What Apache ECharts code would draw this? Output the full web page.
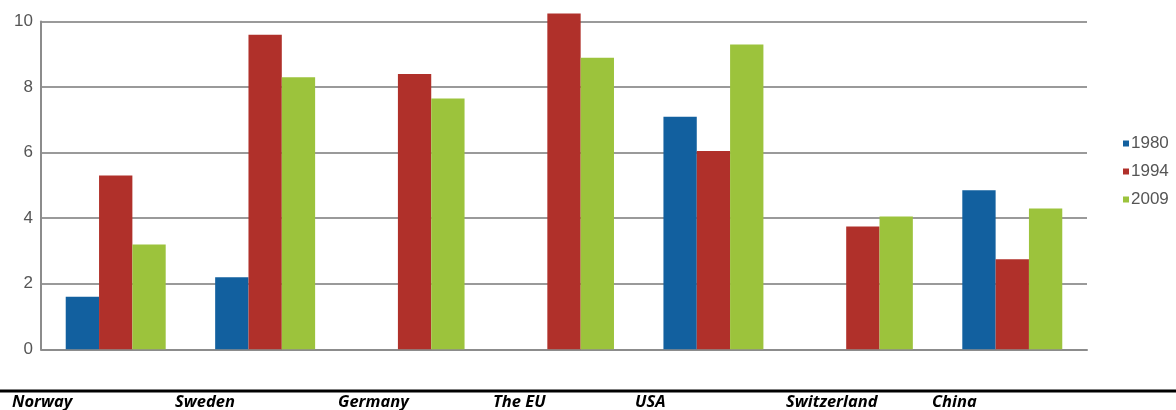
<!DOCTYPE html>
<html>
<head>
<meta charset="utf-8">
<script src="https://cdn.jsdelivr.net/npm/echarts@6/dist/echarts.min.js"></script>
<style>
  html, body { margin: 0; padding: 0; background: #fff; }
  #chart { width: 1176px; height: 410px; }
</style>
</head>
<body>
<div id="chart"></div>
<script>
// Countries and yearly values
const categories = ['Norway', 'Sweden', 'Germany', 'The EU', 'USA', 'Switzerland', 'China'];
const years = ['1980', '1994', '2009'];
const values1980 = [1.6, 2.2, null, null, 7.1, null, 4.85];
const values1994 = [5.3, 9.6, 8.4, 10.25, 6.05, 3.75, 2.75];
const values2009 = [3.2, 8.3, 7.65, 8.9, 9.3, 4.05, 4.3];
const yTicks = [0, 2, 4, 6, 8, 10];

// Layout of the country caption row under the rule
const captionX = [12, 175, 338, 493, 635, 786, 932];
const colors = ['#12609f', '#b0302a', '#9cc33c'];

const chart = echarts.init(document.getElementById('chart'));

const seriesValues = [values1980, values1994, values2009];

chart.setOption({
  animation: false,
  color: colors,
  grid: { left: 41, right: 89, top: 21.6, bottom: 60.7 },
  legend: {
    orient: 'vertical',
    left: 1118,
    top: 130,
    itemWidth: 6,
    itemHeight: 6,
    itemGap: 11,
    icon: 'rect',
    textStyle: { fontFamily: 'Liberation Sans', fontSize: 17, color: '#555', padding: [0, 0, 0, -3] },
    data: years
  },
  xAxis: {
    type: 'category',
    data: categories,
    axisLine: { show: true, lineStyle: { color: '#8c8c8c', width: 2 } },
    axisTick: { show: false },
    axisLabel: { show: false }
  },
  yAxis: {
    type: 'value',
    min: yTicks[0],
    max: yTicks[yTicks.length - 1],
    interval: 2,
    axisLine: { show: true, lineStyle: { color: '#8c8c8c', width: 2 } },
    axisTick: { show: false },
    axisLabel: { fontFamily: 'Liberation Sans', fontSize: 17, color: '#555', margin: 8 },
    splitLine: { lineStyle: { color: '#9a9a9a', width: 2 } }
  },
  series: years.map((y, i) => ({
    name: y,
    type: 'bar',
    data: seriesValues[i],
    barWidth: '22.3%',
    barGap: '0%',
    clip: false,
    itemStyle: { color: colors[i] }
  })),
  graphic: [
    {
      type: 'rect',
      left: 0,
      top: 389.5,
      shape: { width: 1176, height: 3 },
      style: { fill: '#000' },
      silent: true
    }
  ].concat(categories.map((c, i) => ({
    type: 'text',
    x: captionX[i],
    y: 411,
    style: {
      text: c,
      fontFamily: 'Open Sans',
      fontSize: 16.5,
      fontWeight: 'bold',
      fontStyle: 'italic',
      fill: '#000',
      textVerticalAlign: 'bottom',
      verticalAlign: 'bottom'
    },
    silent: true
  })))
});
</script>
</body>
</html>
